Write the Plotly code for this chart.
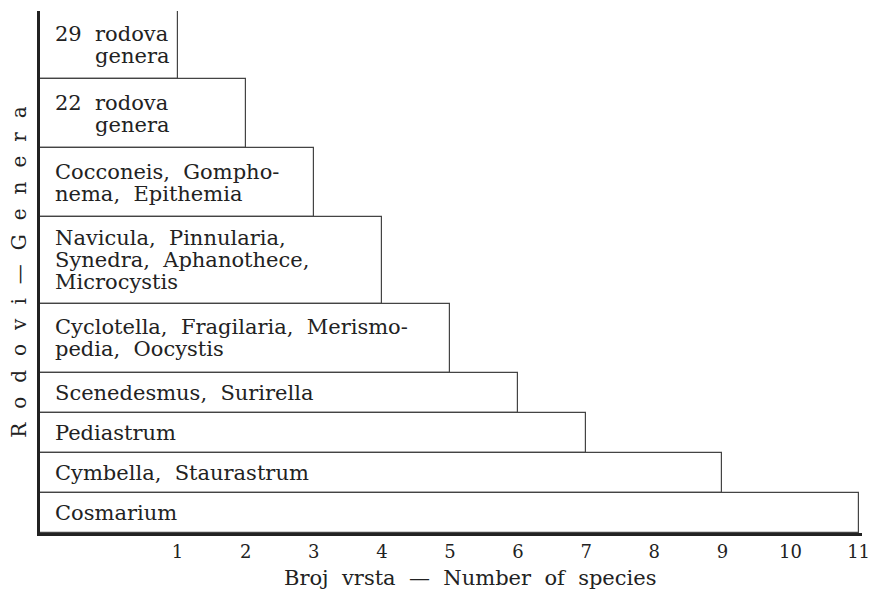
import plotly.graph_objects as go

# ---- data (top to bottom) ----
genera_labels = [
    "29 rodova\n\u00a0\u00a0\u00a0\u00a0\u00a0\u00a0genera",
    "22 rodova\n\u00a0\u00a0\u00a0\u00a0\u00a0\u00a0genera",
    "Cocconeis, Gompho-\nnema, Epithemia",
    "Navicula, Pinnularia,\nSynedra, Aphanothece,\nMicrocystis",
    "Cyclotella, Fragilaria, Merismo-\npedia, Oocystis",
    "Scenedesmus, Surirella",
    "Pediastrum",
    "Cymbella, Staurastrum",
    "Cosmarium",
]
species_counts = [1, 2, 3, 4, 5, 6, 7, 9, 11]
tick_values = [1, 2, 3, 4, 5, 6, 7, 8, 9, 10, 11]
tick_labels = ["1", "2", "3", "4", "5", "6", "7", "8", "9", "10", "11"]
x_title = "Broj vrsta — Number of species"
y_title = "Rodovi—Genera"

# ---- layout constants ----
row_heights = [68, 69, 69, 86, 69, 40, 40, 40, 40]   # px-based y units, top to bottom
X_START = -1.02
X_END = 11.05
LINE_GAP = 22
FONT = "DejaVu Serif"
INK = "#222222"


def widen(s):
    # wider inter-word spacing, as in the typeset original
    return s.replace(" ", "\u00a0 ")


def letterspace(s):
    return "\u2002\u2009".join(list(s))


total = sum(row_heights)
centers = []
top = total
for h in row_heights:
    centers.append(top - h / 2)
    top -= h

fig = go.Figure()
fig.add_trace(go.Bar(
    orientation="h",
    y=centers,
    x=[v - X_START for v in species_counts],
    base=X_START,
    width=row_heights,
    marker=dict(color="white", line=dict(color="#444444", width=1.2)),
    hoverinfo="skip",
    showlegend=False,
))

annotations = []
for lab, c in zip(genera_labels, centers):
    lines = lab.split("\n")
    n = len(lines)
    for k, ln in enumerate(lines):
        annotations.append(dict(
            x=X_START, y=c, xref="x", yref="y",
            text=widen(ln), showarrow=False,
            xanchor="left", yanchor="middle",
            xshift=13, yshift=((n - 1) / 2 - k) * LINE_GAP,
            font=dict(family=FONT, size=21, color=INK),
        ))

# x-axis title (slightly right of centre in the original)
annotations.append(dict(
    x=0.523, y=0, xref="paper", yref="paper",
    text=widen(x_title), showarrow=False,
    xanchor="center", yanchor="middle", yshift=-45,
    font=dict(family=FONT, size=21, color=INK),
))

fig.update_layout(
    width=870, height=590,
    margin=dict(l=40, r=8, t=11, b=57),
    paper_bgcolor="white", plot_bgcolor="white",
    annotations=annotations,
    bargap=0,
    xaxis=dict(
        range=[X_START, X_END],
        tickvals=tick_values, ticktext=tick_labels,
        showline=True, linewidth=3, linecolor="#222222",
        showgrid=False, zeroline=False, ticks="",
        tickfont=dict(family=FONT, size=18, color=INK),
        ticklabeloverflow="allow",
        automargin=False,
    ),
    yaxis=dict(
        range=[0, total],
        showline=True, linewidth=2.5, linecolor="#222222",
        showgrid=False, zeroline=False, showticklabels=False, ticks="",
        title=dict(text=letterspace(y_title),
                   font=dict(family=FONT, size=20, color=INK), standoff=6),
        automargin=False,
    ),
)

# remove the default page margin so the figure fills the window exactly
fig.write_html(
    "out.html",
    config={"displayModeBar": False},
    post_script="document.body.style.margin='0';document.body.style.overflow='hidden';",
)
